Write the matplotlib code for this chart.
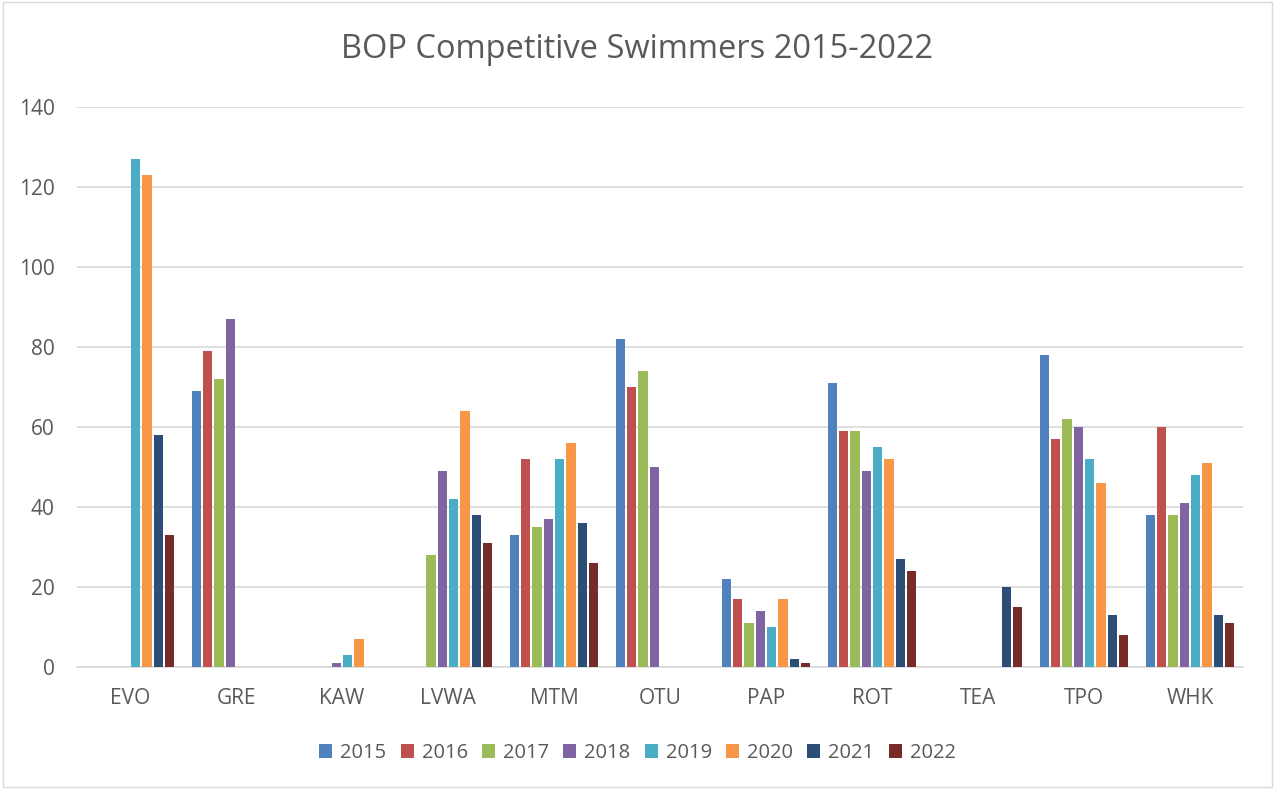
import numpy as np
from matplotlib import pyplot as plt
from matplotlib.patches import Rectangle

clubs = ['EVO', 'GRE', 'KAW', 'LVWA', 'MTM', 'OTU', 'PAP', 'ROT', 'TEA', 'TPO', 'WHK']
years = ['2015', '2016', '2017', '2018', '2019', '2020', '2021', '2022']

# swimmers per club, one list per year
y2015 = [0, 69, 0, 0, 33, 82, 22, 71, 0, 78, 38]
y2016 = [0, 79, 0, 0, 52, 70, 17, 59, 0, 57, 60]
y2017 = [0, 72, 0, 28, 35, 74, 11, 59, 0, 62, 38]
y2018 = [0, 87, 1, 49, 37, 50, 14, 49, 0, 60, 41]
y2019 = [127, 0, 3, 42, 52, 0, 10, 55, 0, 52, 48]
y2020 = [123, 0, 7, 64, 56, 0, 17, 52, 0, 46, 51]
y2021 = [58, 0, 0, 38, 36, 0, 2, 27, 20, 13, 13]
y2022 = [33, 0, 0, 31, 26, 0, 1, 24, 15, 8, 11]
series = [y2015, y2016, y2017, y2018, y2019, y2020, y2021, y2022]

colors = ['#4F81BD', '#C0504D', '#9BBB59', '#8064A2',
          '#4BACC6', '#F79646', '#2C4D75', '#772C2A']

plt.rcParams['font.family'] = ['Open Sans', 'DejaVu Sans']
txt = '#595959'

fig = plt.figure(figsize=(12.75, 7.89), dpi=100)
ax = fig.add_axes([77 / 1275, 1 - 667 / 789, (1243 - 77) / 1275, (667 - 107) / 789])

# light border round the whole chart
fig.patches.append(Rectangle((0.002, 0.003), 0.996, 0.994, transform=fig.transFigure,
                             fill=False, edgecolor='#d9d9d9', linewidth=1))

x = np.arange(len(clubs))
pitch = 0.107
width = 0.088
for i, (vals, col) in enumerate(zip(series, colors)):
    ax.bar(x + (i - 3.5) * pitch, vals, width, color=col, label=years[i], zorder=3)

ax.set_xlim(-0.5, len(clubs) - 0.5)
ax.set_ylim(0, 140)
ax.set_yticks(range(0, 141, 20))
ax.set_xticks(x)
ax.set_xticklabels(clubs)
ax.tick_params(axis='both', length=0, colors=txt, labelsize=15)
ax.tick_params(axis='x', pad=15)
ax.tick_params(axis='y', pad=16)
ax.grid(axis='y', color='#d9d9d9', linewidth=1.2, zorder=0)
for s in ['top', 'right', 'left']:
    ax.spines[s].set_visible(False)
ax.spines['bottom'].set_color('#d9d9d9')
ax.spines['bottom'].set_linewidth(1.2)

fig.text(0.5, 1 - 50 / 789, 'BOP Competitive Swimmers 2015-2022', ha='center', va='center',
         fontsize=23.5, color=txt)

fig.legend(loc='center', bbox_to_anchor=(0.5, 1 - 753 / 789), ncol=8, frameon=False,
           fontsize=14.5, labelcolor=txt, handlelength=0.65, handleheight=0.65,
           handletextpad=0.4, columnspacing=0.7)

fig.savefig('out.png', dpi=100)
